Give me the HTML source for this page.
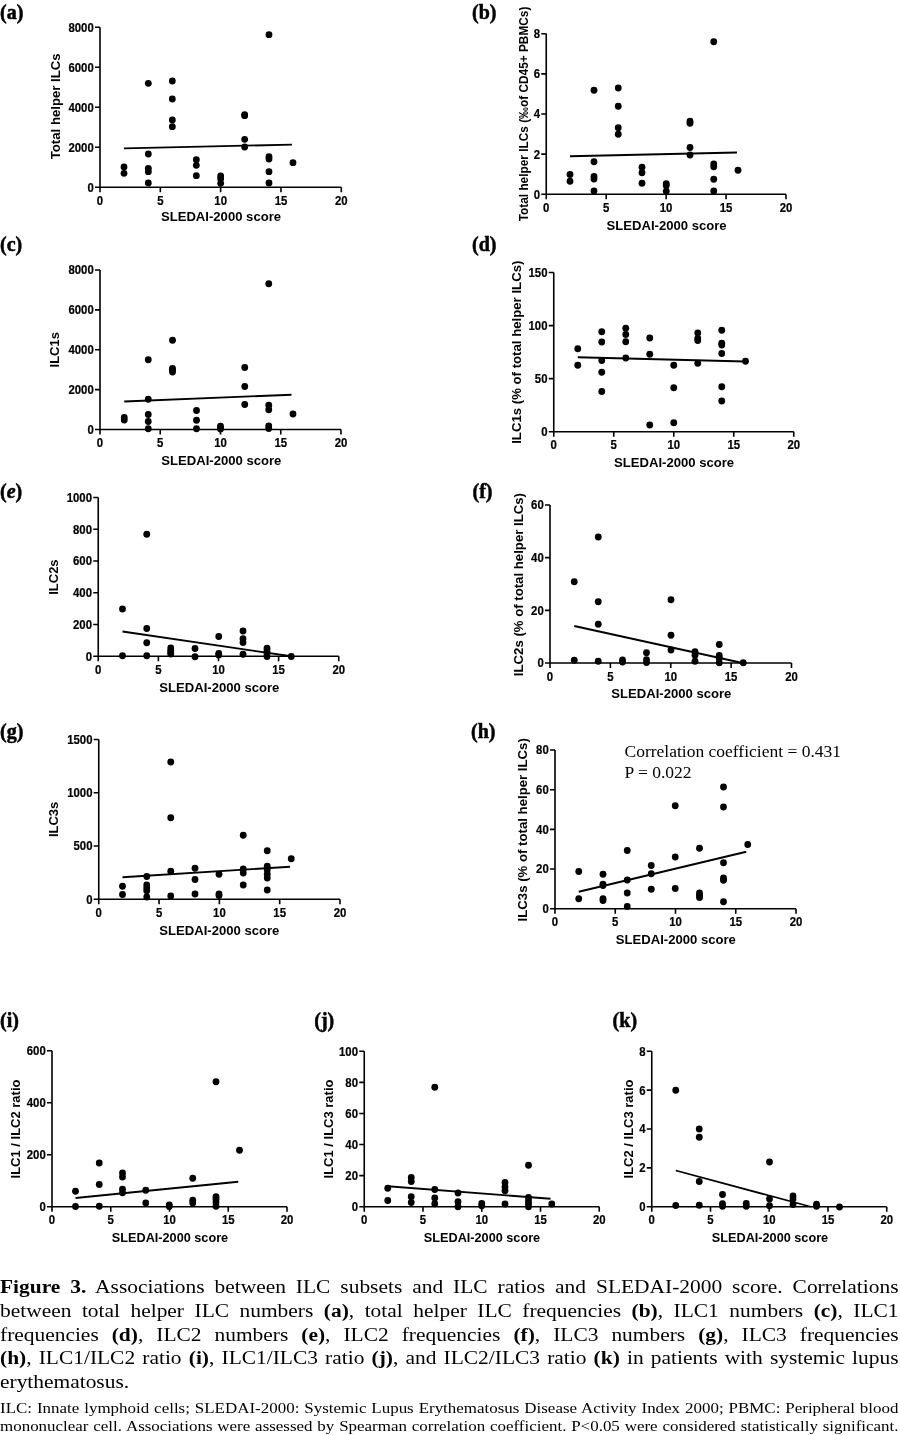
<!DOCTYPE html>
<html><head><meta charset="utf-8"><style>
html,body{margin:0;padding:0;background:#fff;width:900px;height:1435px;overflow:hidden}
svg{position:absolute;left:0;top:0;will-change:transform}
.tl{font-family:"Liberation Sans",sans-serif;font-weight:bold;font-size:12px;stroke:#000;stroke-width:0.2px}
.ti{font-family:"Liberation Sans",sans-serif;font-weight:bold}
.pl{font-family:"Liberation Serif",serif;font-weight:bold;font-size:20px;stroke:#000;stroke-width:0.5px}
.corr{font-family:"Liberation Serif",serif;font-size:17.5px}
.cl{position:absolute;left:0;will-change:transform;height:24px;font-family:"Liberation Serif",serif;color:#000;white-space:nowrap;text-align:justify;transform-origin:0 0}
</style></head><body>
<svg width="900" height="1435" viewBox="0 0 900 1435">
<path d="M100.00 27.30V187.30H341.30" fill="none" stroke="#000" stroke-width="1.6"/>
<text class="tl" transform="translate(93.80 191.70) scale(0.95 1)" text-anchor="end">0</text>
<text class="tl" transform="translate(93.80 151.70) scale(0.95 1)" text-anchor="end">2000</text>
<text class="tl" transform="translate(93.80 111.70) scale(0.95 1)" text-anchor="end">4000</text>
<text class="tl" transform="translate(93.80 71.70) scale(0.95 1)" text-anchor="end">6000</text>
<text class="tl" transform="translate(93.80 31.70) scale(0.95 1)" text-anchor="end">8000</text>
<text class="tl" transform="translate(100.00 205.00) scale(0.95 1)" text-anchor="middle">0</text>
<text class="tl" transform="translate(160.32 205.00) scale(0.95 1)" text-anchor="middle">5</text>
<text class="tl" transform="translate(220.65 205.00) scale(0.95 1)" text-anchor="middle">10</text>
<text class="tl" transform="translate(280.98 205.00) scale(0.95 1)" text-anchor="middle">15</text>
<text class="tl" transform="translate(341.30 205.00) scale(0.95 1)" text-anchor="middle">20</text>
<path d="M95.00 187.30H100.00M95.00 147.30H100.00M95.00 107.30H100.00M95.00 67.30H100.00M95.00 27.30H100.00M100.00 187.30V192.30M160.32 187.30V192.30M220.65 187.30V192.30M280.98 187.30V192.30M341.30 187.30V192.30" stroke="#000" stroke-width="1.6" fill="none"/>
<circle cx="124.00" cy="167.00" r="3.4"/>
<circle cx="124.00" cy="173.33" r="3.4"/>
<circle cx="148.33" cy="83.33" r="3.4"/>
<circle cx="148.33" cy="154.00" r="3.4"/>
<circle cx="148.33" cy="168.33" r="3.4"/>
<circle cx="148.33" cy="171.67" r="3.4"/>
<circle cx="148.33" cy="183.00" r="3.4"/>
<circle cx="172.33" cy="81.00" r="3.4"/>
<circle cx="172.33" cy="99.00" r="3.4"/>
<circle cx="172.33" cy="120.00" r="3.4"/>
<circle cx="172.33" cy="126.67" r="3.4"/>
<circle cx="196.33" cy="159.67" r="3.4"/>
<circle cx="196.33" cy="165.33" r="3.4"/>
<circle cx="196.33" cy="175.67" r="3.4"/>
<circle cx="220.67" cy="176.00" r="3.4"/>
<circle cx="220.67" cy="178.67" r="3.4"/>
<circle cx="220.67" cy="183.33" r="3.4"/>
<circle cx="244.67" cy="114.67" r="3.4"/>
<circle cx="244.67" cy="115.67" r="3.4"/>
<circle cx="244.67" cy="139.33" r="3.4"/>
<circle cx="244.67" cy="147.00" r="3.4"/>
<circle cx="269.00" cy="34.67" r="3.4"/>
<circle cx="269.00" cy="156.67" r="3.4"/>
<circle cx="269.00" cy="159.00" r="3.4"/>
<circle cx="269.00" cy="171.67" r="3.4"/>
<circle cx="269.00" cy="183.00" r="3.4"/>
<circle cx="293.00" cy="162.67" r="3.4"/>
<line x1="124.00" y1="148.33" x2="292.00" y2="144.67" stroke="#000" stroke-width="1.8"/>
<text class="ti" style="font-size:13.2px" transform="translate(55.00 106.30) rotate(-90)" x="0" y="4.75" text-anchor="middle">Total helper ILCs</text>
<text class="ti" style="font-size:13.1px" x="221.00" y="221.30" text-anchor="middle">SLEDAI-2000 score</text>
<text class="pl" x="0" y="19.1">(a)</text>
<path d="M546.25 33.75V194.25H786.00" fill="none" stroke="#000" stroke-width="1.6"/>
<text class="tl" transform="translate(540.05 198.65) scale(0.95 1)" text-anchor="end">0</text>
<text class="tl" transform="translate(540.05 158.53) scale(0.95 1)" text-anchor="end">2</text>
<text class="tl" transform="translate(540.05 118.40) scale(0.95 1)" text-anchor="end">4</text>
<text class="tl" transform="translate(540.05 78.28) scale(0.95 1)" text-anchor="end">6</text>
<text class="tl" transform="translate(540.05 38.15) scale(0.95 1)" text-anchor="end">8</text>
<text class="tl" transform="translate(546.25 211.95) scale(0.95 1)" text-anchor="middle">0</text>
<text class="tl" transform="translate(606.19 211.95) scale(0.95 1)" text-anchor="middle">5</text>
<text class="tl" transform="translate(666.12 211.95) scale(0.95 1)" text-anchor="middle">10</text>
<text class="tl" transform="translate(726.06 211.95) scale(0.95 1)" text-anchor="middle">15</text>
<text class="tl" transform="translate(786.00 211.95) scale(0.95 1)" text-anchor="middle">20</text>
<path d="M541.25 194.25H546.25M541.25 154.12H546.25M541.25 114.00H546.25M541.25 73.88H546.25M541.25 33.75H546.25M546.25 194.25V199.25M606.19 194.25V199.25M666.12 194.25V199.25M726.06 194.25V199.25M786.00 194.25V199.25" stroke="#000" stroke-width="1.6" fill="none"/>
<circle cx="570.00" cy="174.50" r="3.4"/>
<circle cx="570.00" cy="181.25" r="3.4"/>
<circle cx="594.00" cy="90.25" r="3.4"/>
<circle cx="594.00" cy="161.75" r="3.4"/>
<circle cx="594.00" cy="176.50" r="3.4"/>
<circle cx="594.00" cy="179.00" r="3.4"/>
<circle cx="594.00" cy="191.00" r="3.4"/>
<circle cx="618.25" cy="88.00" r="3.4"/>
<circle cx="618.25" cy="106.25" r="3.4"/>
<circle cx="618.25" cy="127.75" r="3.4"/>
<circle cx="618.25" cy="134.25" r="3.4"/>
<circle cx="642.00" cy="167.25" r="3.4"/>
<circle cx="642.00" cy="172.75" r="3.4"/>
<circle cx="642.00" cy="183.25" r="3.4"/>
<circle cx="666.25" cy="183.75" r="3.4"/>
<circle cx="666.25" cy="185.50" r="3.4"/>
<circle cx="666.25" cy="191.25" r="3.4"/>
<circle cx="690.00" cy="121.25" r="3.4"/>
<circle cx="690.00" cy="123.25" r="3.4"/>
<circle cx="690.00" cy="147.50" r="3.4"/>
<circle cx="690.00" cy="155.00" r="3.4"/>
<circle cx="713.75" cy="41.75" r="3.4"/>
<circle cx="713.75" cy="164.00" r="3.4"/>
<circle cx="713.75" cy="166.75" r="3.4"/>
<circle cx="713.75" cy="179.25" r="3.4"/>
<circle cx="713.75" cy="191.00" r="3.4"/>
<circle cx="738.00" cy="170.25" r="3.4"/>
<line x1="570.00" y1="156.25" x2="737.00" y2="152.50" stroke="#000" stroke-width="1.8"/>
<text class="ti" style="font-size:11.85px" transform="translate(523.60 114.00) rotate(-90)" x="0" y="4.27" text-anchor="middle">Total helper ILCs (‰of CD45+ PBMCs)</text>
<text class="ti" style="font-size:13.1px" x="666.60" y="229.70" text-anchor="middle">SLEDAI-2000 score</text>
<text class="pl" x="472" y="19.1">(b)</text>
<path d="M100.00 270.00V429.50H341.00" fill="none" stroke="#000" stroke-width="1.6"/>
<text class="tl" transform="translate(93.80 433.90) scale(0.95 1)" text-anchor="end">0</text>
<text class="tl" transform="translate(93.80 394.02) scale(0.95 1)" text-anchor="end">2000</text>
<text class="tl" transform="translate(93.80 354.15) scale(0.95 1)" text-anchor="end">4000</text>
<text class="tl" transform="translate(93.80 314.27) scale(0.95 1)" text-anchor="end">6000</text>
<text class="tl" transform="translate(93.80 274.40) scale(0.95 1)" text-anchor="end">8000</text>
<text class="tl" transform="translate(100.00 447.20) scale(0.95 1)" text-anchor="middle">0</text>
<text class="tl" transform="translate(160.25 447.20) scale(0.95 1)" text-anchor="middle">5</text>
<text class="tl" transform="translate(220.50 447.20) scale(0.95 1)" text-anchor="middle">10</text>
<text class="tl" transform="translate(280.75 447.20) scale(0.95 1)" text-anchor="middle">15</text>
<text class="tl" transform="translate(341.00 447.20) scale(0.95 1)" text-anchor="middle">20</text>
<path d="M95.00 429.50H100.00M95.00 389.62H100.00M95.00 349.75H100.00M95.00 309.88H100.00M95.00 270.00H100.00M100.00 429.50V434.50M160.25 429.50V434.50M220.50 429.50V434.50M280.75 429.50V434.50M341.00 429.50V434.50" stroke="#000" stroke-width="1.6" fill="none"/>
<circle cx="124.25" cy="417.50" r="3.4"/>
<circle cx="124.25" cy="420.00" r="3.4"/>
<circle cx="148.25" cy="359.75" r="3.4"/>
<circle cx="148.25" cy="399.25" r="3.4"/>
<circle cx="148.25" cy="414.50" r="3.4"/>
<circle cx="148.25" cy="421.50" r="3.4"/>
<circle cx="148.25" cy="428.75" r="3.4"/>
<circle cx="172.50" cy="340.25" r="3.4"/>
<circle cx="172.50" cy="368.50" r="3.4"/>
<circle cx="172.50" cy="370.00" r="3.4"/>
<circle cx="172.50" cy="372.00" r="3.4"/>
<circle cx="196.50" cy="410.50" r="3.4"/>
<circle cx="196.50" cy="420.25" r="3.4"/>
<circle cx="196.50" cy="428.75" r="3.4"/>
<circle cx="220.50" cy="426.25" r="3.4"/>
<circle cx="220.50" cy="428.00" r="3.4"/>
<circle cx="220.50" cy="429.00" r="3.4"/>
<circle cx="244.75" cy="367.50" r="3.4"/>
<circle cx="244.75" cy="386.50" r="3.4"/>
<circle cx="244.75" cy="404.50" r="3.4"/>
<circle cx="268.75" cy="283.75" r="3.4"/>
<circle cx="268.75" cy="405.25" r="3.4"/>
<circle cx="268.75" cy="409.75" r="3.4"/>
<circle cx="268.75" cy="426.00" r="3.4"/>
<circle cx="268.75" cy="428.50" r="3.4"/>
<circle cx="293.00" cy="414.00" r="3.4"/>
<line x1="124.25" y1="401.50" x2="291.50" y2="394.75" stroke="#000" stroke-width="1.8"/>
<text class="ti" style="font-size:13px" transform="translate(54.80 349.75) rotate(-90)" x="0" y="4.68" text-anchor="middle">ILC1s</text>
<text class="ti" style="font-size:13.1px" x="221.30" y="465.00" text-anchor="middle">SLEDAI-2000 score</text>
<text class="pl" x="0" y="251.4">(c)</text>
<path d="M553.75 272.50V431.75H793.75" fill="none" stroke="#000" stroke-width="1.6"/>
<text class="tl" transform="translate(547.55 436.15) scale(0.95 1)" text-anchor="end">0</text>
<text class="tl" transform="translate(547.55 383.07) scale(0.95 1)" text-anchor="end">50</text>
<text class="tl" transform="translate(547.55 329.98) scale(0.95 1)" text-anchor="end">100</text>
<text class="tl" transform="translate(547.55 276.90) scale(0.95 1)" text-anchor="end">150</text>
<text class="tl" transform="translate(553.75 449.45) scale(0.95 1)" text-anchor="middle">0</text>
<text class="tl" transform="translate(613.75 449.45) scale(0.95 1)" text-anchor="middle">5</text>
<text class="tl" transform="translate(673.75 449.45) scale(0.95 1)" text-anchor="middle">10</text>
<text class="tl" transform="translate(733.75 449.45) scale(0.95 1)" text-anchor="middle">15</text>
<text class="tl" transform="translate(793.75 449.45) scale(0.95 1)" text-anchor="middle">20</text>
<path d="M548.75 431.75H553.75M548.75 378.67H553.75M548.75 325.58H553.75M548.75 272.50H553.75M553.75 431.75V436.75M613.75 431.75V436.75M673.75 431.75V436.75M733.75 431.75V436.75M793.75 431.75V436.75" stroke="#000" stroke-width="1.6" fill="none"/>
<circle cx="577.75" cy="348.75" r="3.4"/>
<circle cx="577.75" cy="365.25" r="3.4"/>
<circle cx="601.75" cy="331.75" r="3.4"/>
<circle cx="601.75" cy="342.00" r="3.4"/>
<circle cx="601.75" cy="360.50" r="3.4"/>
<circle cx="601.75" cy="372.25" r="3.4"/>
<circle cx="601.75" cy="391.50" r="3.4"/>
<circle cx="625.75" cy="328.25" r="3.4"/>
<circle cx="625.75" cy="334.50" r="3.4"/>
<circle cx="625.75" cy="341.75" r="3.4"/>
<circle cx="625.75" cy="358.00" r="3.4"/>
<circle cx="649.75" cy="338.00" r="3.4"/>
<circle cx="649.75" cy="354.25" r="3.4"/>
<circle cx="649.75" cy="425.00" r="3.4"/>
<circle cx="673.75" cy="365.25" r="3.4"/>
<circle cx="673.75" cy="387.75" r="3.4"/>
<circle cx="673.75" cy="422.75" r="3.4"/>
<circle cx="697.75" cy="333.00" r="3.4"/>
<circle cx="697.75" cy="338.50" r="3.4"/>
<circle cx="697.75" cy="340.50" r="3.4"/>
<circle cx="697.75" cy="363.25" r="3.4"/>
<circle cx="721.75" cy="330.25" r="3.4"/>
<circle cx="721.75" cy="343.25" r="3.4"/>
<circle cx="721.75" cy="345.00" r="3.4"/>
<circle cx="721.75" cy="353.50" r="3.4"/>
<circle cx="721.75" cy="386.75" r="3.4"/>
<circle cx="721.75" cy="401.00" r="3.4"/>
<circle cx="745.50" cy="361.25" r="3.4"/>
<line x1="577.75" y1="357.25" x2="745.00" y2="361.50" stroke="#000" stroke-width="1.8"/>
<text class="ti" style="font-size:13.2px" transform="translate(516.40 352.20) rotate(-90)" x="0" y="4.75" text-anchor="middle">ILC1s (% of total helper ILCs)</text>
<text class="ti" style="font-size:13.1px" x="674.10" y="467.00" text-anchor="middle">SLEDAI-2000 score</text>
<text class="pl" x="472" y="251.4">(d)</text>
<path d="M98.25 497.50V656.25H338.75" fill="none" stroke="#000" stroke-width="1.6"/>
<text class="tl" transform="translate(92.05 660.65) scale(0.95 1)" text-anchor="end">0</text>
<text class="tl" transform="translate(92.05 628.90) scale(0.95 1)" text-anchor="end">200</text>
<text class="tl" transform="translate(92.05 597.15) scale(0.95 1)" text-anchor="end">400</text>
<text class="tl" transform="translate(92.05 565.40) scale(0.95 1)" text-anchor="end">600</text>
<text class="tl" transform="translate(92.05 533.65) scale(0.95 1)" text-anchor="end">800</text>
<text class="tl" transform="translate(92.05 501.90) scale(0.95 1)" text-anchor="end">1000</text>
<text class="tl" transform="translate(98.25 673.95) scale(0.95 1)" text-anchor="middle">0</text>
<text class="tl" transform="translate(158.38 673.95) scale(0.95 1)" text-anchor="middle">5</text>
<text class="tl" transform="translate(218.50 673.95) scale(0.95 1)" text-anchor="middle">10</text>
<text class="tl" transform="translate(278.62 673.95) scale(0.95 1)" text-anchor="middle">15</text>
<text class="tl" transform="translate(338.75 673.95) scale(0.95 1)" text-anchor="middle">20</text>
<path d="M93.25 656.25H98.25M93.25 624.50H98.25M93.25 592.75H98.25M93.25 561.00H98.25M93.25 529.25H98.25M93.25 497.50H98.25M98.25 656.25V661.25M158.38 656.25V661.25M218.50 656.25V661.25M278.62 656.25V661.25M338.75 656.25V661.25" stroke="#000" stroke-width="1.6" fill="none"/>
<circle cx="122.50" cy="609.00" r="3.4"/>
<circle cx="122.50" cy="655.75" r="3.4"/>
<circle cx="146.75" cy="534.25" r="3.4"/>
<circle cx="146.75" cy="628.50" r="3.4"/>
<circle cx="146.75" cy="642.75" r="3.4"/>
<circle cx="146.75" cy="655.75" r="3.4"/>
<circle cx="170.75" cy="648.00" r="3.4"/>
<circle cx="170.75" cy="650.50" r="3.4"/>
<circle cx="170.75" cy="652.50" r="3.4"/>
<circle cx="170.75" cy="654.00" r="3.4"/>
<circle cx="195.00" cy="648.50" r="3.4"/>
<circle cx="195.00" cy="656.75" r="3.4"/>
<circle cx="218.75" cy="636.50" r="3.4"/>
<circle cx="218.75" cy="653.50" r="3.4"/>
<circle cx="218.75" cy="655.00" r="3.4"/>
<circle cx="243.00" cy="631.00" r="3.4"/>
<circle cx="243.00" cy="638.75" r="3.4"/>
<circle cx="243.00" cy="642.50" r="3.4"/>
<circle cx="243.00" cy="654.25" r="3.4"/>
<circle cx="267.00" cy="648.25" r="3.4"/>
<circle cx="267.00" cy="651.25" r="3.4"/>
<circle cx="267.00" cy="653.75" r="3.4"/>
<circle cx="267.00" cy="656.50" r="3.4"/>
<circle cx="291.25" cy="656.50" r="3.4"/>
<line x1="122.50" y1="631.50" x2="291.25" y2="656.25" stroke="#000" stroke-width="1.8"/>
<text class="ti" style="font-size:13px" transform="translate(53.20 577.10) rotate(-90)" x="0" y="4.68" text-anchor="middle">ILC2s</text>
<text class="ti" style="font-size:13.1px" x="219.30" y="692.30" text-anchor="middle">SLEDAI-2000 score</text>
<text class="pl" x="0" y="498.1">(<tspan font-style="italic">e</tspan>)</text>
<path d="M550.00 505.00V663.00H791.50" fill="none" stroke="#000" stroke-width="1.6"/>
<text class="tl" transform="translate(543.80 667.40) scale(0.95 1)" text-anchor="end">0</text>
<text class="tl" transform="translate(543.80 614.73) scale(0.95 1)" text-anchor="end">20</text>
<text class="tl" transform="translate(543.80 562.07) scale(0.95 1)" text-anchor="end">40</text>
<text class="tl" transform="translate(543.80 509.40) scale(0.95 1)" text-anchor="end">60</text>
<text class="tl" transform="translate(550.00 680.70) scale(0.95 1)" text-anchor="middle">0</text>
<text class="tl" transform="translate(610.38 680.70) scale(0.95 1)" text-anchor="middle">5</text>
<text class="tl" transform="translate(670.75 680.70) scale(0.95 1)" text-anchor="middle">10</text>
<text class="tl" transform="translate(731.12 680.70) scale(0.95 1)" text-anchor="middle">15</text>
<text class="tl" transform="translate(791.50 680.70) scale(0.95 1)" text-anchor="middle">20</text>
<path d="M545.00 663.00H550.00M545.00 610.33H550.00M545.00 557.67H550.00M545.00 505.00H550.00M550.00 663.00V668.00M610.38 663.00V668.00M670.75 663.00V668.00M731.12 663.00V668.00M791.50 663.00V668.00" stroke="#000" stroke-width="1.6" fill="none"/>
<circle cx="574.25" cy="581.75" r="3.4"/>
<circle cx="574.25" cy="660.25" r="3.4"/>
<circle cx="598.25" cy="537.00" r="3.4"/>
<circle cx="598.25" cy="601.75" r="3.4"/>
<circle cx="598.25" cy="624.25" r="3.4"/>
<circle cx="598.25" cy="661.25" r="3.4"/>
<circle cx="622.50" cy="660.00" r="3.4"/>
<circle cx="622.50" cy="662.00" r="3.4"/>
<circle cx="646.50" cy="652.75" r="3.4"/>
<circle cx="646.50" cy="659.75" r="3.4"/>
<circle cx="646.50" cy="662.50" r="3.4"/>
<circle cx="671.00" cy="599.75" r="3.4"/>
<circle cx="671.00" cy="635.25" r="3.4"/>
<circle cx="671.00" cy="650.00" r="3.4"/>
<circle cx="695.00" cy="651.75" r="3.4"/>
<circle cx="695.00" cy="655.25" r="3.4"/>
<circle cx="695.00" cy="661.25" r="3.4"/>
<circle cx="719.25" cy="644.50" r="3.4"/>
<circle cx="719.25" cy="655.50" r="3.4"/>
<circle cx="719.25" cy="658.25" r="3.4"/>
<circle cx="719.25" cy="662.75" r="3.4"/>
<circle cx="743.25" cy="662.75" r="3.4"/>
<line x1="574.25" y1="626.00" x2="742.50" y2="663.00" stroke="#000" stroke-width="1.8"/>
<text class="ti" style="font-size:13.2px" transform="translate(518.30 584.60) rotate(-90)" x="0" y="4.75" text-anchor="middle">ILC2s (% of total helper ILCs)</text>
<text class="ti" style="font-size:13.1px" x="671.30" y="698.30" text-anchor="middle">SLEDAI-2000 score</text>
<text class="pl" x="472.5" y="497.7">(f)</text>
<path d="M98.75 739.50V899.25H340.00" fill="none" stroke="#000" stroke-width="1.6"/>
<text class="tl" transform="translate(92.55 903.65) scale(0.95 1)" text-anchor="end">0</text>
<text class="tl" transform="translate(92.55 850.40) scale(0.95 1)" text-anchor="end">500</text>
<text class="tl" transform="translate(92.55 797.15) scale(0.95 1)" text-anchor="end">1000</text>
<text class="tl" transform="translate(92.55 743.90) scale(0.95 1)" text-anchor="end">1500</text>
<text class="tl" transform="translate(98.75 916.95) scale(0.95 1)" text-anchor="middle">0</text>
<text class="tl" transform="translate(159.06 916.95) scale(0.95 1)" text-anchor="middle">5</text>
<text class="tl" transform="translate(219.38 916.95) scale(0.95 1)" text-anchor="middle">10</text>
<text class="tl" transform="translate(279.69 916.95) scale(0.95 1)" text-anchor="middle">15</text>
<text class="tl" transform="translate(340.00 916.95) scale(0.95 1)" text-anchor="middle">20</text>
<path d="M93.75 899.25H98.75M93.75 846.00H98.75M93.75 792.75H98.75M93.75 739.50H98.75M98.75 899.25V904.25M159.06 899.25V904.25M219.38 899.25V904.25M279.69 899.25V904.25M340.00 899.25V904.25" stroke="#000" stroke-width="1.6" fill="none"/>
<circle cx="122.50" cy="886.25" r="3.4"/>
<circle cx="122.50" cy="894.50" r="3.4"/>
<circle cx="146.75" cy="876.50" r="3.4"/>
<circle cx="146.75" cy="885.00" r="3.4"/>
<circle cx="146.75" cy="888.00" r="3.4"/>
<circle cx="146.75" cy="890.75" r="3.4"/>
<circle cx="146.75" cy="897.00" r="3.4"/>
<circle cx="170.75" cy="762.00" r="3.4"/>
<circle cx="170.75" cy="817.75" r="3.4"/>
<circle cx="170.75" cy="871.25" r="3.4"/>
<circle cx="170.75" cy="896.00" r="3.4"/>
<circle cx="195.00" cy="868.25" r="3.4"/>
<circle cx="195.00" cy="879.50" r="3.4"/>
<circle cx="195.00" cy="894.00" r="3.4"/>
<circle cx="219.00" cy="874.25" r="3.4"/>
<circle cx="219.00" cy="894.00" r="3.4"/>
<circle cx="219.00" cy="895.50" r="3.4"/>
<circle cx="243.25" cy="835.25" r="3.4"/>
<circle cx="243.25" cy="869.00" r="3.4"/>
<circle cx="243.25" cy="873.00" r="3.4"/>
<circle cx="243.25" cy="885.00" r="3.4"/>
<circle cx="267.25" cy="850.75" r="3.4"/>
<circle cx="267.25" cy="866.25" r="3.4"/>
<circle cx="267.25" cy="870.00" r="3.4"/>
<circle cx="267.25" cy="874.25" r="3.4"/>
<circle cx="267.25" cy="878.00" r="3.4"/>
<circle cx="267.25" cy="890.00" r="3.4"/>
<circle cx="291.25" cy="858.75" r="3.4"/>
<line x1="122.50" y1="877.25" x2="290.00" y2="866.75" stroke="#000" stroke-width="1.8"/>
<text class="ti" style="font-size:13px" transform="translate(53.20 819.40) rotate(-90)" x="0" y="4.68" text-anchor="middle">ILC3s</text>
<text class="ti" style="font-size:13.1px" x="219.30" y="935.00" text-anchor="middle">SLEDAI-2000 score</text>
<text class="pl" x="0" y="738.1">(g)</text>
<path d="M555.00 750.00V908.75H796.00" fill="none" stroke="#000" stroke-width="1.6"/>
<text class="tl" transform="translate(548.80 913.15) scale(0.95 1)" text-anchor="end">0</text>
<text class="tl" transform="translate(548.80 873.46) scale(0.95 1)" text-anchor="end">20</text>
<text class="tl" transform="translate(548.80 833.77) scale(0.95 1)" text-anchor="end">40</text>
<text class="tl" transform="translate(548.80 794.09) scale(0.95 1)" text-anchor="end">60</text>
<text class="tl" transform="translate(548.80 754.40) scale(0.95 1)" text-anchor="end">80</text>
<text class="tl" transform="translate(555.00 926.45) scale(0.95 1)" text-anchor="middle">0</text>
<text class="tl" transform="translate(615.25 926.45) scale(0.95 1)" text-anchor="middle">5</text>
<text class="tl" transform="translate(675.50 926.45) scale(0.95 1)" text-anchor="middle">10</text>
<text class="tl" transform="translate(735.75 926.45) scale(0.95 1)" text-anchor="middle">15</text>
<text class="tl" transform="translate(796.00 926.45) scale(0.95 1)" text-anchor="middle">20</text>
<path d="M550.00 908.75H555.00M550.00 869.06H555.00M550.00 829.38H555.00M550.00 789.69H555.00M550.00 750.00H555.00M555.00 908.75V913.75M615.25 908.75V913.75M675.50 908.75V913.75M735.75 908.75V913.75M796.00 908.75V913.75" stroke="#000" stroke-width="1.6" fill="none"/>
<circle cx="578.75" cy="871.50" r="3.4"/>
<circle cx="578.75" cy="898.75" r="3.4"/>
<circle cx="603.00" cy="874.25" r="3.4"/>
<circle cx="603.00" cy="884.25" r="3.4"/>
<circle cx="603.00" cy="885.50" r="3.4"/>
<circle cx="603.00" cy="898.75" r="3.4"/>
<circle cx="603.00" cy="900.50" r="3.4"/>
<circle cx="627.25" cy="850.50" r="3.4"/>
<circle cx="627.25" cy="880.00" r="3.4"/>
<circle cx="627.25" cy="893.00" r="3.4"/>
<circle cx="627.25" cy="906.50" r="3.4"/>
<circle cx="651.25" cy="865.50" r="3.4"/>
<circle cx="651.25" cy="873.75" r="3.4"/>
<circle cx="651.25" cy="889.25" r="3.4"/>
<circle cx="675.25" cy="805.75" r="3.4"/>
<circle cx="675.25" cy="857.00" r="3.4"/>
<circle cx="675.25" cy="888.50" r="3.4"/>
<circle cx="699.50" cy="848.25" r="3.4"/>
<circle cx="699.50" cy="893.00" r="3.4"/>
<circle cx="699.50" cy="895.25" r="3.4"/>
<circle cx="699.50" cy="897.50" r="3.4"/>
<circle cx="723.50" cy="787.00" r="3.4"/>
<circle cx="723.50" cy="807.00" r="3.4"/>
<circle cx="723.50" cy="862.75" r="3.4"/>
<circle cx="723.50" cy="878.00" r="3.4"/>
<circle cx="723.50" cy="880.25" r="3.4"/>
<circle cx="723.50" cy="901.75" r="3.4"/>
<circle cx="747.75" cy="844.50" r="3.4"/>
<line x1="578.75" y1="891.75" x2="746.25" y2="851.75" stroke="#000" stroke-width="1.8"/>
<text class="ti" style="font-size:13.2px" transform="translate(522.60 829.80) rotate(-90)" x="0" y="4.75" text-anchor="middle">ILC3s (% of total helper ILCs)</text>
<text class="ti" style="font-size:13.1px" x="675.80" y="944.20" text-anchor="middle">SLEDAI-2000 score</text>
<text class="pl" x="471" y="738.1">(h)</text>
<path d="M52.00 1050.75V1206.75H287.00" fill="none" stroke="#000" stroke-width="1.6"/>
<text class="tl" transform="translate(45.80 1211.15) scale(0.95 1)" text-anchor="end">0</text>
<text class="tl" transform="translate(45.80 1159.15) scale(0.95 1)" text-anchor="end">200</text>
<text class="tl" transform="translate(45.80 1107.15) scale(0.95 1)" text-anchor="end">400</text>
<text class="tl" transform="translate(45.80 1055.15) scale(0.95 1)" text-anchor="end">600</text>
<text class="tl" transform="translate(52.00 1224.45) scale(0.95 1)" text-anchor="middle">0</text>
<text class="tl" transform="translate(110.75 1224.45) scale(0.95 1)" text-anchor="middle">5</text>
<text class="tl" transform="translate(169.50 1224.45) scale(0.95 1)" text-anchor="middle">10</text>
<text class="tl" transform="translate(228.25 1224.45) scale(0.95 1)" text-anchor="middle">15</text>
<text class="tl" transform="translate(287.00 1224.45) scale(0.95 1)" text-anchor="middle">20</text>
<path d="M47.00 1206.75H52.00M47.00 1154.75H52.00M47.00 1102.75H52.00M47.00 1050.75H52.00M52.00 1206.75V1211.75M110.75 1206.75V1211.75M169.50 1206.75V1211.75M228.25 1206.75V1211.75M287.00 1206.75V1211.75" stroke="#000" stroke-width="1.6" fill="none"/>
<circle cx="75.50" cy="1191.25" r="3.4"/>
<circle cx="75.50" cy="1206.50" r="3.4"/>
<circle cx="99.25" cy="1163.00" r="3.4"/>
<circle cx="99.25" cy="1184.50" r="3.4"/>
<circle cx="99.25" cy="1206.25" r="3.4"/>
<circle cx="122.50" cy="1173.00" r="3.4"/>
<circle cx="122.50" cy="1177.00" r="3.4"/>
<circle cx="122.50" cy="1189.25" r="3.4"/>
<circle cx="122.50" cy="1192.75" r="3.4"/>
<circle cx="145.75" cy="1190.25" r="3.4"/>
<circle cx="145.75" cy="1203.00" r="3.4"/>
<circle cx="169.25" cy="1205.00" r="3.4"/>
<circle cx="169.25" cy="1206.50" r="3.4"/>
<circle cx="192.75" cy="1178.25" r="3.4"/>
<circle cx="192.75" cy="1200.25" r="3.4"/>
<circle cx="192.75" cy="1203.00" r="3.4"/>
<circle cx="216.00" cy="1081.75" r="3.4"/>
<circle cx="216.00" cy="1196.75" r="3.4"/>
<circle cx="216.00" cy="1199.25" r="3.4"/>
<circle cx="216.00" cy="1202.50" r="3.4"/>
<circle cx="216.00" cy="1206.25" r="3.4"/>
<circle cx="239.50" cy="1150.25" r="3.4"/>
<line x1="75.50" y1="1198.00" x2="238.25" y2="1181.75" stroke="#000" stroke-width="1.8"/>
<text class="ti" style="font-size:13px" transform="translate(15.20 1129.00) rotate(-90)" x="0" y="4.68" text-anchor="middle">ILC1 / ILC2 ratio</text>
<text class="ti" style="font-size:12.7px" x="170.00" y="1241.70" text-anchor="middle">SLEDAI-2000 score</text>
<text class="pl" x="0" y="1027.1">(i)</text>
<path d="M364.25 1051.25V1206.75H599.25" fill="none" stroke="#000" stroke-width="1.6"/>
<text class="tl" transform="translate(358.05 1211.15) scale(0.95 1)" text-anchor="end">0</text>
<text class="tl" transform="translate(358.05 1180.05) scale(0.95 1)" text-anchor="end">20</text>
<text class="tl" transform="translate(358.05 1148.95) scale(0.95 1)" text-anchor="end">40</text>
<text class="tl" transform="translate(358.05 1117.85) scale(0.95 1)" text-anchor="end">60</text>
<text class="tl" transform="translate(358.05 1086.75) scale(0.95 1)" text-anchor="end">80</text>
<text class="tl" transform="translate(358.05 1055.65) scale(0.95 1)" text-anchor="end">100</text>
<text class="tl" transform="translate(364.25 1224.45) scale(0.95 1)" text-anchor="middle">0</text>
<text class="tl" transform="translate(423.00 1224.45) scale(0.95 1)" text-anchor="middle">5</text>
<text class="tl" transform="translate(481.75 1224.45) scale(0.95 1)" text-anchor="middle">10</text>
<text class="tl" transform="translate(540.50 1224.45) scale(0.95 1)" text-anchor="middle">15</text>
<text class="tl" transform="translate(599.25 1224.45) scale(0.95 1)" text-anchor="middle">20</text>
<path d="M359.25 1206.75H364.25M359.25 1175.65H364.25M359.25 1144.55H364.25M359.25 1113.45H364.25M359.25 1082.35H364.25M359.25 1051.25H364.25M364.25 1206.75V1211.75M423.00 1206.75V1211.75M481.75 1206.75V1211.75M540.50 1206.75V1211.75M599.25 1206.75V1211.75" stroke="#000" stroke-width="1.6" fill="none"/>
<circle cx="387.75" cy="1188.25" r="3.4"/>
<circle cx="387.75" cy="1200.50" r="3.4"/>
<circle cx="411.25" cy="1177.50" r="3.4"/>
<circle cx="411.25" cy="1181.50" r="3.4"/>
<circle cx="411.25" cy="1196.75" r="3.4"/>
<circle cx="411.25" cy="1202.50" r="3.4"/>
<circle cx="434.75" cy="1087.25" r="3.4"/>
<circle cx="434.75" cy="1189.50" r="3.4"/>
<circle cx="434.75" cy="1198.00" r="3.4"/>
<circle cx="434.75" cy="1203.75" r="3.4"/>
<circle cx="458.00" cy="1193.00" r="3.4"/>
<circle cx="458.00" cy="1201.75" r="3.4"/>
<circle cx="458.00" cy="1206.75" r="3.4"/>
<circle cx="481.75" cy="1203.50" r="3.4"/>
<circle cx="481.75" cy="1205.75" r="3.4"/>
<circle cx="505.00" cy="1182.50" r="3.4"/>
<circle cx="505.00" cy="1187.00" r="3.4"/>
<circle cx="505.00" cy="1190.75" r="3.4"/>
<circle cx="505.00" cy="1204.00" r="3.4"/>
<circle cx="528.50" cy="1165.25" r="3.4"/>
<circle cx="528.50" cy="1197.50" r="3.4"/>
<circle cx="528.50" cy="1200.75" r="3.4"/>
<circle cx="528.50" cy="1203.75" r="3.4"/>
<circle cx="528.50" cy="1206.75" r="3.4"/>
<circle cx="551.75" cy="1204.00" r="3.4"/>
<line x1="387.75" y1="1186.25" x2="550.50" y2="1198.75" stroke="#000" stroke-width="1.8"/>
<text class="ti" style="font-size:13px" transform="translate(327.90 1129.00) rotate(-90)" x="0" y="4.68" text-anchor="middle">ILC1 / ILC3 ratio</text>
<text class="ti" style="font-size:12.7px" x="482.00" y="1241.70" text-anchor="middle">SLEDAI-2000 score</text>
<text class="pl" x="314.3" y="1027.1">(j)</text>
<path d="M651.75 1051.25V1206.75H886.75" fill="none" stroke="#000" stroke-width="1.6"/>
<text class="tl" transform="translate(645.55 1211.15) scale(0.95 1)" text-anchor="end">0</text>
<text class="tl" transform="translate(645.55 1172.28) scale(0.95 1)" text-anchor="end">2</text>
<text class="tl" transform="translate(645.55 1133.40) scale(0.95 1)" text-anchor="end">4</text>
<text class="tl" transform="translate(645.55 1094.53) scale(0.95 1)" text-anchor="end">6</text>
<text class="tl" transform="translate(645.55 1055.65) scale(0.95 1)" text-anchor="end">8</text>
<text class="tl" transform="translate(651.75 1224.45) scale(0.95 1)" text-anchor="middle">0</text>
<text class="tl" transform="translate(710.50 1224.45) scale(0.95 1)" text-anchor="middle">5</text>
<text class="tl" transform="translate(769.25 1224.45) scale(0.95 1)" text-anchor="middle">10</text>
<text class="tl" transform="translate(828.00 1224.45) scale(0.95 1)" text-anchor="middle">15</text>
<text class="tl" transform="translate(886.75 1224.45) scale(0.95 1)" text-anchor="middle">20</text>
<path d="M646.75 1206.75H651.75M646.75 1167.88H651.75M646.75 1129.00H651.75M646.75 1090.12H651.75M646.75 1051.25H651.75M651.75 1206.75V1211.75M710.50 1206.75V1211.75M769.25 1206.75V1211.75M828.00 1206.75V1211.75M886.75 1206.75V1211.75" stroke="#000" stroke-width="1.6" fill="none"/>
<circle cx="675.75" cy="1090.25" r="3.4"/>
<circle cx="675.75" cy="1205.50" r="3.4"/>
<circle cx="699.25" cy="1129.00" r="3.4"/>
<circle cx="699.25" cy="1137.25" r="3.4"/>
<circle cx="699.25" cy="1181.50" r="3.4"/>
<circle cx="699.25" cy="1205.25" r="3.4"/>
<circle cx="722.50" cy="1194.50" r="3.4"/>
<circle cx="722.50" cy="1203.75" r="3.4"/>
<circle cx="722.50" cy="1206.25" r="3.4"/>
<circle cx="746.25" cy="1203.50" r="3.4"/>
<circle cx="746.25" cy="1206.25" r="3.4"/>
<circle cx="769.50" cy="1162.00" r="3.4"/>
<circle cx="769.50" cy="1199.00" r="3.4"/>
<circle cx="769.50" cy="1205.75" r="3.4"/>
<circle cx="793.00" cy="1196.00" r="3.4"/>
<circle cx="793.00" cy="1199.00" r="3.4"/>
<circle cx="793.00" cy="1204.50" r="3.4"/>
<circle cx="816.50" cy="1204.25" r="3.4"/>
<circle cx="816.50" cy="1206.25" r="3.4"/>
<circle cx="839.50" cy="1207.00" r="3.4"/>
<line x1="675.75" y1="1170.50" x2="810.75" y2="1206.75" stroke="#000" stroke-width="1.8"/>
<text class="ti" style="font-size:13px" transform="translate(628.40 1129.00) rotate(-90)" x="0" y="4.68" text-anchor="middle">ILC2 / ILC3 ratio</text>
<text class="ti" style="font-size:12.7px" x="770.00" y="1241.70" text-anchor="middle">SLEDAI-2000 score</text>
<text class="pl" x="612.6" y="1027.1">(k)</text>
<text class="corr" x="624.5" y="757">Correlation coefficient = 0.431</text>
<text class="corr" x="624.5" y="778">P = 0.022</text>
</svg>
<div class="cl" style="top:1274.92px;width:755.04px;font-size:18px;line-height:24px;transform:scaleX(1.19);text-align-last:justify"><b>Figure 3.</b> Associations between ILC subsets and ILC ratios and SLEDAI-2000 score. Correlations</div>
<div class="cl" style="top:1298.72px;width:755.04px;font-size:18px;line-height:24px;transform:scaleX(1.19);text-align-last:justify">between total helper ILC numbers <b>(a)</b>, total helper ILC frequencies <b>(b)</b>, ILC1 numbers <b>(c)</b>, ILC1</div>
<div class="cl" style="top:1322.52px;width:755.04px;font-size:18px;line-height:24px;transform:scaleX(1.19);text-align-last:justify">frequencies <b>(d)</b>, ILC2 numbers <b>(e)</b>, ILC2 frequencies <b>(f)</b>, ILC3 numbers <b>(g)</b>, ILC3 frequencies</div>
<div class="cl" style="top:1346.33px;width:755.04px;font-size:18px;line-height:24px;transform:scaleX(1.19);text-align-last:justify"><b>(h)</b>, ILC1/ILC2 ratio <b>(i)</b>, ILC1/ILC3 ratio <b>(j)</b>, and ILC2/ILC3 ratio <b>(k)</b> in patients with systemic lupus</div>
<div class="cl" style="top:1370.12px;width:755.04px;font-size:18px;line-height:24px;transform:scaleX(1.19);text-align-last:left">erythematosus.</div>
<div class="cl" style="top:1398.94px;width:795.13px;font-size:15px;line-height:18px;transform:scaleX(1.13);text-align-last:justify">ILC: Innate lymphoid cells; SLEDAI-2000: Systemic Lupus Erythematosus Disease Activity Index 2000; PBMC: Peripheral blood</div>
<div class="cl" style="top:1417.24px;width:795.13px;font-size:15px;line-height:18px;transform:scaleX(1.13);text-align-last:justify">mononuclear cell. Associations were assessed by Spearman correlation coefficient. P&lt;0.05 were considered statistically significant.</div>
</body></html>
